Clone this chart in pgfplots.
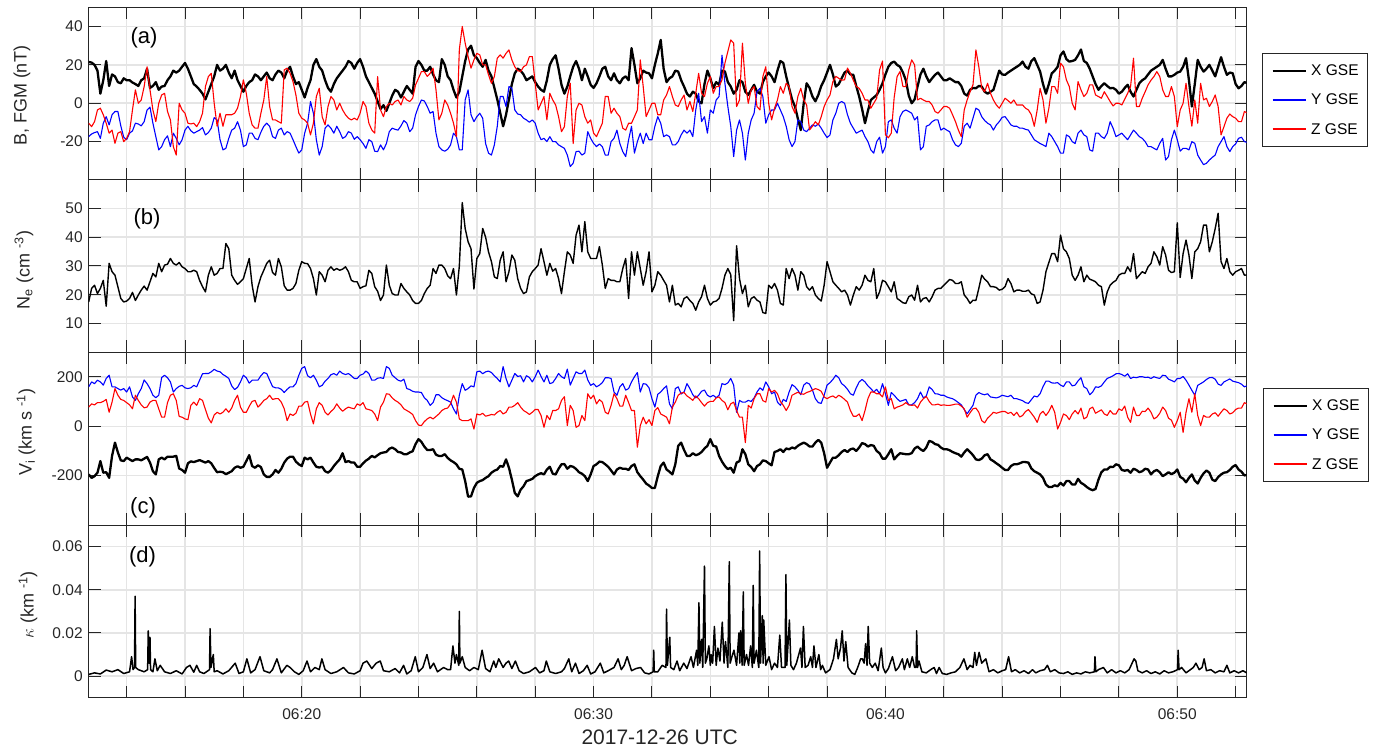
\documentclass[border=0pt]{standalone}
\usepackage{fontspec}
\setmainfont{Liberation Sans}
\usepackage{pgfplots}
\usepackage{pgfplotstable}
\pgfplotsset{compat=1.18}

\pgfplotstableread{
t bx by bz ne vx vy vz
12.7 21.5 -17.4 -10.4 17.5 -195 160 78
12.8 21.2 -16 -12.2 22.2 -209 180 91
12.9 20 -15.3 -9.6 23.3 -202 173 87
13.0 17 -14.8 -3.5 20.4 -188 187 96
13.1 5 -18.3 -2.6 22.2 -141 180 96
13.2 12 -10.4 -6 25 -188 167 101
13.3 22 -7 -10.4 16 -186 194 109
13.4 9 -11.3 -15.6 30.9 -209 207 57
13.5 15 -6 -14 28 -120 160 98
13.6 14 -4.3 -20.9 26.8 -66 160 153
13.7 11 -4.3 -15.6 22.8 -106 153 126
13.8 10.4 -11.8 -14.8 18.7 -138 147 109
13.9 13 -17.7 -20 17.5 -141 153 105
14.0 12 -19 -18.3 17.8 -127 139 96
14.1 12 -15.6 -14.8 18.7 -134 160 87
14.2 10.8 -14.4 -3.5 20.8 -141 119 71
14.3 10 -10.4 7 18 -134 105 126
14.4 9 -10.8 0 19.9 -134 132 105
14.5 12 -11.8 1.7 21.6 -138 153 87
14.6 13 -9.6 8.7 23 -131 188 75
14.7 18 -3.5 19 21.6 -124 173 78
14.8 8 -2 7 24.5 -147 153 98
14.9 9 -10.4 -3.5 27.4 -182 126 105
15.0 11 -17.4 -9.6 26.2 -195 116 105
15.1 7 -24.3 0 30.9 -134 126 71
15.2 8.7 -22.6 4.3 28 -127 198 37
15.3 9 -19 5.2 30.3 -134 207 37
15.4 12 -17 -4.3 30.6 -123 197 96
15.5 14 -22.6 -8.7 32.6 -123 180 126
15.6 17 -15.6 -22.6 30.9 -123 139 132
15.7 16 -18.3 -27 30.3 -120 153 105
15.8 17 -21.7 0 31.2 -171 162 40
15.9 19 -19 -3.5 29.7 -177 166 37
16.0 21 -14 -5.2 29.1 -188 156 30
16.1 18 -12 -10.4 28 -150 153 27
16.2 14 -14.3 -10.8 28 -142 156 85
16.3 10 -15.6 -10.4 28.5 -145 166 98
16.4 8.7 -14.8 -12.2 28 -141 160 85
16.5 7 -14 -9.6 25 -137 187 112
16.6 5 -12.7 -5.2 22.8 -142 213 105
16.7 2 -16.5 8.7 21 -147 214 68
16.8 6 -15.3 13.9 26.8 -141 214 33
16.9 10 -13 15.6 29.7 -150 221 14
17.0 14 -7.5 0 26.8 -169 231 46
17.1 20 -8.7 -12 27.4 -186 224 57
17.2 17 -19 -5.2 29.1 -184 221 50
17.3 18 -24.3 -12 29.1 -186 210 57
17.4 20 -23.5 -6 37.8 -194 203 71
17.5 16 -18.3 -6 36 -188 194 57
17.6 13 -14 -6 26.8 -182 164 74
17.7 17 -13 -5.2 25 -168 149 105
17.8 12 -9.6 -2.6 23.6 -162 158 126
17.9 9 -14 3.5 24.5 -168 180 78
18.0 6 -22.6 12.2 25.6 -164 207 57
18.1 9 -21.7 5.2 29.1 -141 197 57
18.2 11 -15.6 -5.2 32.6 -117 175 81
18.3 12 -15.6 -11.3 23.3 -161 187 101
18.4 15 -18.3 -13 17.5 -168 187 105
18.5 14 -19 -13 22.8 -158 187 78
18.6 12 -15.1 -5.2 26.2 -165 205 90
18.7 14 -12 1.7 28.5 -195 218 105
18.8 16 -10.4 13.9 30.9 -205 214 112
18.9 13 -12 -1.7 32 -205 187 126
19.0 12 -17.4 -8.7 27.7 -195 161 109
19.1 15 -18.3 -8.7 26.8 -177 156 112
19.2 17 -14 -9.6 32.6 -188 156 112
19.3 16 -13 -10.4 29.7 -172 150 98
19.4 13 -16.5 17.4 23.1 -147 137 71
19.5 17 -14.8 18.3 21.6 -131 150 23
19.6 19 -15.6 15.6 21.6 -123 160 50
19.7 14 -19 11.3 22.2 -123 160 44
19.8 10 -22.6 4.3 23.9 -143 173 53
19.9 11 -26 -5.2 28.5 -154 207 82
20.0 7 -24.3 -7.8 31.5 -161 235 82
20.1 3 -15.6 -8.7 30.9 -127 242 98
20.2 8 -10.4 -10.4 30.8 -134 205 101
20.3 12 0.9 -16.5 29.1 -127 197 50
20.4 20 -5.2 -10.4 25.6 -147 207 10
20.5 23 -19 3.5 19.9 -164 187 71
20.6 19 -27 7.8 28 -167 160 96
20.7 17 -22.6 -7 26.8 -164 166 85
20.8 12 -13 -11.3 24.5 -182 183 57
20.9 8 -11.3 -1.7 28.5 -188 194 46
21.0 6 -13 3.5 29.7 -178 209 60
21.1 10 -15.6 1.7 28.5 -161 214 71
21.2 13 -12 -3.5 29.1 -147 207 91
21.3 15 -14.8 0 28.5 -134 224 74
21.4 17 -18.3 -3.5 28.9 -109 214 61
21.5 19 -17.4 -6 29.7 -145 210 71
21.6 22 -14.8 -7.8 28 -141 214 78
21.7 21 -15.6 -8.7 25 -147 205 74
21.8 18 -18.8 -7.8 24.5 -147 194 71
21.9 21 -17.4 -8.7 24.5 -164 194 91
22.0 23 -19 -5.2 22.2 -164 207 85
22.1 19 -21 0.9 22.8 -150 212 96
22.2 14 -23.5 -1.7 23.1 -139 224 71
22.3 11 -19 -10.4 28.5 -131 214 68
22.4 8 -20 -13.9 27.4 -120 187 64
22.5 5 -25 -15.6 22.8 -126 187 50
22.6 1 -25.2 13.9 21.2 -117 195 23
22.7 -3 -21.7 -3.5 18 -109 197 78
22.8 -1 -24.3 -7 19.9 -106 194 98
22.9 -4 -21 -1.7 30.3 -104 242 132
23.0 0 -14.8 0 23.3 -91 235 130
23.1 4 -13 -0.9 20.4 -86 207 115
23.2 7 -13.6 0.9 19.9 -93 197 105
23.3 6 -14 1.7 19.9 -104 187 98
23.4 3 -11.8 -0.9 23.9 -106 183 87
23.5 6 -9 3.5 22.2 -113 191 71
23.6 9 -10.4 1.7 21 -113 153 64
23.7 7 -14.8 0.9 19.9 -106 149 57
23.8 5 -13 2.6 18 -101 142 48
23.9 19 -6 9.6 17 -72 139 23
24.0 22 -1.7 13 17 -52 139 5
24.1 20 1.7 16.5 18 -63 137 3
24.2 17 1.2 16.5 20.4 -82 116 19
24.3 17 -1.7 14 22.2 -96 105 30
24.4 19 -5.2 15.6 23.3 -96 85 37
24.5 15 -4.3 18.3 29.1 -93 96 30
24.6 12 -15.6 7 27.4 -115 128 40
24.7 11 -22.6 -8.7 30.3 -120 128 50
24.8 23 -24.3 -5.2 30.3 -120 116 64
24.9 20 -25 1.7 29.1 -113 109 71
25.0 14 -24 -0.9 26.6 -128 104 74
25.1 12 -21.7 -5.2 25.6 -138 98 91
25.2 7 -15.6 -10.4 29.1 -145 71 126
25.3 3 -17.4 -17.4 19.9 -154 50 98
25.4 6 -24.3 28 30 -172 126 30
25.5 14 -24.3 40 52 -175 173 23
25.6 22 1.7 31.3 43 -222 146 23
25.7 28 7 24.3 38.4 -285 153 23
25.8 30 -6 18.3 36 -284 164 30
25.9 25 -9.6 22.6 22 -250 160 -11
26.0 23.5 -7 26 32.6 -229 221 50
26.1 21 -5.2 25.2 34.3 -222 224 46
26.2 19 -7.8 20 43 -218 213 53
26.3 22.6 -21 20 40 -209 221 41
26.4 17 -26 14.8 34.9 -202 224 44
26.5 14 -27 10.4 31.5 -188 218 48
26.6 8 -21.7 13.9 26.2 -180 205 46
26.7 2 -12 23.5 25.6 -175 194 57
26.8 -5 3.5 25.2 32 -161 180 64
26.9 -12 3.5 23.5 34.9 -164 242 50
27.0 -6 -1.7 26 24.5 -134 194 57
27.1 2 8.7 27.8 28 -168 160 78
27.2 10 7.8 22.6 33.8 -216 187 78
27.3 15.6 -3.5 19 32 -270 214 85
27.4 18 -5.6 17 25.6 -284 202 96
27.5 17 -6 16.5 22.2 -257 205 78
27.6 15 -7.8 19 20.4 -243 180 64
27.7 12 -8.7 20 21 -222 205 57
27.8 13 -9.9 24.3 26.2 -218 198 48
27.9 14 -8.7 24.3 28 -213 180 57
28.0 11 -10.4 10.4 29.1 -202 201 68
28.1 8.7 -15.6 -3.5 30.3 -195 228 68
28.2 7 -19 0 36 -190 202 44
28.3 6 -18.3 3.5 31.5 -195 180 -4
28.4 12 -20 -8.7 26.8 -175 207 44
28.5 20 -17.4 5.2 30.9 -164 173 27
28.6 23 -20 1.7 28.2 -192 177 64
28.7 25 -20 -0.9 29.1 -195 194 64
28.8 18 -21.7 -7 25.6 -172 214 71
28.9 9.6 -22.6 -14.8 20.4 -154 201 105
29.0 5 -23.5 -12.2 28 -153 194 120
29.1 8.7 -27 3.5 34.9 -172 232 3
29.2 14 -33 10.4 33.8 -161 167 85
29.3 19 -31.3 -21 30.9 -164 194 64
29.4 22 -25.2 -3.5 40.7 -173 221 -4
29.5 18 -25 0 44.2 -186 214 3
29.6 12 -27 -0.9 34.9 -192 214 44
29.7 18 -26 -7 45.4 -202 228 23
29.8 14 -14.8 -10.4 34.9 -222 188 132
29.9 9.6 -18.3 -8.7 32.6 -195 166 112
30.0 8 -20.9 -15.6 32.6 -161 173 126
30.1 10.4 -22.6 -17.4 32.6 -154 160 91
30.2 14 -21.2 -13.9 36.7 -143 167 108
30.3 18 -22.6 -10.4 30.3 -145 177 98
30.4 19 -27 3.5 22.2 -154 197 57
30.5 14 -27 3.5 25.6 -164 197 50
30.6 12 -20 -5.2 25 -179 194 85
30.7 15.6 -18.3 -2.6 25 -195 139 132
30.8 12 -14 -5.2 24.5 -175 126 112
30.9 10.4 -21 -7 24.5 -168 160 82
31.0 13 -25.2 -13 29.1 -172 173 82
31.1 14 -27.8 -14 32.6 -172 147 126
31.2 12 -19 -10.4 18.7 -177 153 96
31.3 28.7 -12 -10.4 34.9 -161 180 64
31.4 20 -26 -7 26.8 -154 201 64
31.5 10.4 -20 -3.5 34.9 -186 218 -85
31.6 13 -15.6 22.6 29.1 -202 139 3
31.7 17 -21 8.7 23.3 -216 173 37
31.8 16 -15.6 -7 28 -232 171 10
31.9 15.6 -19 -3.5 34.9 -240 156 27
32.0 13 -19 0 21 -250 112 3
32.1 20 -12 0 23.3 -250 78 64
32.2 26 -7 -6 28 -202 130 76
32.3 33 -10.4 -6 26.8 -161 139 50
32.4 18 -17.4 1.7 25 -147 153 44
32.5 11 -16.5 4.3 23.3 -175 164 37
32.6 13 -17.4 8.7 17.5 -184 91 10
32.7 14 -21.7 3.5 23.3 -195 71 78
32.8 17 -21.7 -0.9 16.4 -154 153 98
32.9 16.5 -20 -1.7 17 -79 160 126
33.0 12 -16.5 1.7 15.8 -66 131 135
33.1 8.7 -14 4.3 18.7 -96 139 137
33.2 5 -15.6 -3.5 19.3 -120 173 123
33.3 3.5 -14 0.9 18 -120 153 115
33.4 6 -17.4 -4.3 17 -109 128 105
33.5 5 -3.5 5.2 14.6 -117 115 123
33.6 1 5.2 15.6 17.5 -113 126 112
33.7 0 -9.6 5.2 19.3 -104 142 96
33.8 10 -7 3.5 23.3 -90 147 82
33.9 17 -15.6 10.4 18.7 -79 126 96
34.0 13 -3.5 13.9 16.4 -52 119 101
34.1 7.8 -5.2 5.2 17.5 -79 126 101
34.2 11 1.7 8.7 17.8 -82 116 115
34.3 9.6 3.5 8.7 18.7 -120 126 119
34.4 17 25 12.2 22.2 -143 173 105
34.5 16.5 10.4 20.9 26.8 -161 169 96
34.6 11 -1.7 27 29.1 -173 176 67
34.7 8.7 -12 33 27 -168 194 91
34.8 5 -27.8 31.3 11 -188 167 98
34.9 7 -14 -1.7 37 -147 57 64
35.0 12 -8.7 1.7 25.6 -141 105 37
35.1 11 -15.6 31.3 20.4 -93 98 37
35.2 6 -29.6 10.4 23.3 -113 98 -66
35.3 4.3 -15.6 0 15.8 -154 105 85
35.4 7 -8.7 7 18.7 -165 101 74
35.5 9.6 -5.2 8.7 19.3 -182 115 112
35.6 6 6 -1.7 18.1 -161 139 132
35.7 5 7.8 -3.5 17.5 -154 156 132
35.8 11 3.5 13.9 13.8 -138 146 104
35.9 14 -10.4 19 13.5 -141 180 98
36.0 16 -6 0 23.3 -150 160 153
36.1 14 -3.5 -8.7 22.2 -158 132 139
36.2 11 -3.5 -2.6 23.9 -104 139 146
36.3 17 0 1.7 21.6 -100 98 132
36.4 22 -3.5 8.7 17 -93 85 101
36.5 21 -7 5.2 16.4 -104 109 85
36.6 14 -12 10.4 29.1 -90 101 64
36.7 7.8 -19 8.7 25.6 -93 139 85
36.8 2 -22.6 -1.7 29.1 -86 169 126
36.9 -1.7 -20 -5.2 26.8 -90 160 132
37.0 -8 -8.7 3.5 21.6 -79 146 138
37.1 -14 -9.6 7.8 28 -72 128 132
37.2 0 -14 1.7 26.8 -66 167 130
37.3 10.4 -14.8 -0.9 22.8 -72 177 137
37.4 8 -13 -13.9 21.6 -82 171 141
37.5 3.5 -11.3 -12 22.8 -82 147 147
37.6 1 -12 -9.6 19.9 -66 112 153
37.7 4.3 -10.8 -11.3 18.7 -55 96 149
37.8 9 -13 -7 17.8 -66 93 142
37.9 12 -15.6 -1.7 23.3 -109 126 119
38.0 16 -17.9 1.7 31.5 -168 167 112
38.1 20 -16.5 4.3 28 -147 177 119
38.2 15 -8.7 11.3 24.5 -127 190 123
38.3 8.7 -5.2 14 23.3 -127 207 115
38.4 10 0 13 22.2 -117 197 126
38.5 13 0.9 12 21 -104 173 119
38.6 16 0 12.2 21.6 -96 164 109
38.7 17 -6 18.3 19.9 -104 150 98
38.8 15 -10.4 15.6 16.4 -93 132 64
38.9 14.8 -13 12 19.9 -90 126 41
39.0 9 -15.6 8.7 22.8 -100 156 41
39.1 3.5 -14.8 7.8 21.6 -86 180 50
39.2 -3 -14 5.2 23.3 -68 190 23
39.3 -10.4 -17.4 1.7 26.8 -72 180 64
39.4 -4 -20 1.7 25 -82 164 112
39.5 1.7 -24.3 -2.6 24.5 -76 153 139
39.6 3 -26 0 29.1 -79 139 139
39.7 4.3 -20 2.6 18.7 -100 150 132
39.8 7 -17.7 17.4 21 -109 132 132
39.9 10.4 -26 22 25 -131 173 119
40.0 15 -22.6 -16.5 24.5 -131 132 160
40.1 19 -9.6 -18 22.8 -113 85 105
40.2 21 -8.7 -15.6 21 -93 137 112
40.3 21.7 -13 3 24.5 -134 126 71
40.4 20 -15.6 13.9 18.7 -120 112 78
40.5 19 -7 16.5 18 -109 101 82
40.6 16 -4.3 8.7 17.2 -111 105 87
40.7 12 -3.5 8.7 17 -113 109 96
40.8 4 -4.3 17.4 19.3 -113 87 87
40.9 0 -5.2 22.6 19.9 -109 87 85
41.0 2 -8.7 20 18.1 -90 96 87
41.1 8.7 -7 1.7 23.3 -82 112 74
41.2 15 -24.3 2.6 17.5 -93 139 98
41.3 18 -22.6 1.7 18.7 -100 115 112
41.4 14 -12 0.9 19 -86 123 121
41.5 11 -11.3 0.9 17.5 -59 160 101
41.6 13 -9.6 -0.9 19.3 -63 149 87
41.7 14.8 -8.7 -4.3 21.6 -72 132 87
41.8 16 -8.7 -5.2 22.2 -75 131 90
41.9 14 -14 -3.5 22.2 -86 126 85
42.0 12 -13 -1.7 23.3 -93 126 87
42.1 12 -14 -1.7 24.3 -93 119 85
42.2 13 -14.8 -2.6 25.3 -97 115 85
42.3 12 -19 -6 25 -104 112 87
42.4 11 -21.7 -9.6 23.9 -109 105 90
42.5 11 -22.6 -14 23.9 -113 96 90
42.6 9 -20.9 -17.4 24.5 -123 87 82
42.7 5 -12 -3.5 19.9 -106 68 71
42.8 4 -10.4 1.7 18.7 -93 51 37
42.9 7 -13 6 17 -104 68 55
43.0 8 -7.8 9.6 18.1 -117 85 71
43.1 7.8 -2.6 27.8 18 -134 126 74
43.2 9 -3.5 19 22.2 -137 137 57
43.3 8.7 -7 7.8 26.8 -131 131 23
43.4 6 -9 6 25.4 -117 128 14
43.5 5 -10.4 10.4 24.5 -113 132 33
43.6 6 -11.3 5.2 22.8 -134 119 44
43.7 7 -14 1.7 22.8 -141 117 57
43.8 12 -11.3 -0.9 22.5 -150 115 53
43.9 17 -9.6 -2.6 21.6 -158 119 57
44.0 15 -7.3 0 21.9 -168 126 60
44.1 14.8 -7 2.6 22.8 -177 123 60
44.2 16 -9 1.4 25.6 -177 120 52
44.3 17 -11.3 0 23.9 -161 126 57
44.4 18 -12 1.7 21 -154 112 44
44.5 19 -12 -0.9 21.6 -154 112 57
44.6 20 -13 -0.9 21.6 -150 108 38
44.7 21.7 -13 -0.9 21.2 -145 104 44
44.8 19 -13.6 -2.6 21.2 -145 96 60
44.9 18 -14 -3.5 21.6 -147 93 68
45.0 22 -16.5 -6 20.3 -171 108 53
45.1 23.5 -19 -12 19.9 -182 123 37
45.2 20 -20 -3.5 17 -188 119 16
45.3 16.5 -21 7.8 17.5 -195 132 50
45.4 10 -21.7 1.7 21.6 -209 161 61
45.5 5 -22.6 -10.4 28 -236 183 44
45.6 10 -15.6 -2.6 31.2 -246 183 60
45.7 15.6 -17.4 8.7 34.3 -246 176 85
45.8 17 -20 8.7 34.3 -239 175 57
45.9 19 -22.6 5.2 31.5 -243 177 -11
46.0 25 -26 20.9 40.7 -229 167 16
46.1 27 -26 19 36 -240 161 50
46.2 23 -16.5 12.2 34.9 -222 180 44
46.3 21.7 -17.4 8.7 32.6 -222 180 27
46.4 22 -20 0 26.8 -236 164 50
46.5 22.6 -21 -3.5 25 -236 167 64
46.6 25 -15.6 11.3 26.8 -213 184 50
46.7 28 -14 7 29.7 -229 197 74
46.8 22 -16.5 3.5 24.5 -236 160 30
46.9 21 -17.4 5.2 26.8 -246 153 37
47.0 18 -24.3 9.6 25.4 -254 128 71
47.1 14 -25 9.6 25 -259 139 78
47.2 10 -15.6 4.3 24.5 -254 160 53
47.3 7 -15.6 3.5 23.3 -216 158 60
47.4 9 -17.4 2.6 22.8 -186 164 67
47.5 10.4 -18.3 6 16.4 -175 180 50
47.6 9 -15.6 3.5 21 -175 194 44
47.7 7.8 -9.6 0.9 23.3 -164 199 64
47.8 8 -13 -1.4 24.3 -165 205 50
47.9 7 -17.4 0 25 -154 213 50
48.0 5 -16.5 0 26.8 -158 214 71
48.1 6 -15.6 -0.9 27.4 -177 210 64
48.2 8 -17.4 2.1 27.4 -180 203 82
48.3 9.6 -19 5.2 29.7 -177 213 37
48.4 6 -16.5 8.7 28 -188 194 16
48.5 3.5 -14 23.5 34.3 -172 199 78
48.6 7 -15.6 -1.7 25.6 -177 197 44
48.7 10.4 -17.4 -1.7 26.8 -186 201 44
48.8 12 -18.3 2.6 28 -182 201 61
48.9 13 -20 6 27.4 -172 198 60
49.0 15 -22.6 9.6 29.7 -175 199 74
49.1 17 -22.6 12 30.9 -195 194 57
49.2 18 -23.5 13.9 34.9 -182 201 30
49.3 19 -24.3 16.5 33.2 -177 197 37
49.4 20 -20.9 13.9 30.3 -186 194 53
49.5 22.6 -18.3 7 36.7 -202 207 78
49.6 18 -29.6 3.5 33.8 -195 205 64
49.7 14 -27.8 3.5 28.5 -186 191 33
49.8 14 -19 8.7 27.7 -194 186 25
49.9 14.8 -14 3.5 28 -188 180 -4
50.0 16 -19 -12.2 45 -175 194 23
50.1 16.5 -25 -3.5 26 -205 194 57
50.2 19 -23.5 0 34.3 -212 202 -25
50.3 23.5 -23.5 10.4 39 -227 187 57
50.4 12 -24.3 -1.7 33.8 -209 167 112
50.5 -1.7 -20 -12 25.6 -195 146 57
50.6 10 -20.9 1.7 34.9 -220 126 132
50.7 22.6 -27 -10.4 36 -232 166 44
50.8 19 -29.6 10.4 38.4 -209 173 3
50.9 16.5 -32 1.7 44.2 -191 180 44
51.0 18 -31.3 2.6 44.2 -179 190 37
51.1 20 -29.6 -1.7 34.9 -188 197 37
51.2 17 -28.2 0.9 38.4 -216 198 50
51.3 14 -27 4.3 43 -222 191 55
51.4 19 -22.6 -1.7 48.3 -206 171 41
51.5 24 -20 -16.5 31.5 -195 166 57
51.6 19 -17.4 -12.2 29.1 -188 180 71
51.7 14.8 -22.6 -7.8 32.6 -186 186 64
51.8 16 -25.2 -5.6 28 -177 192 50
51.9 15.6 -22.6 -7 26.8 -164 183 55
52.0 10 -21.2 -7.8 28 -157 180 68
52.1 7.8 -18.3 -9.6 28.5 -175 177 74
52.2 9 -17.7 -9.6 29.1 -184 171 74
52.3 11 -20 -4.3 26.8 -199 160 96
52.5 10 -21 -6 27 -195 170 85
}\datatab

\pgfplotsset{
  panel/.style={
    scale only axis, width=1158pt, height=172.7pt,
    anchor=south west,
    xmin=12.7, xmax=52.38,
    xtick={14,16,...,52},
    xticklabels={},
    tick align=inside, xtick pos=both, ytick pos=both,
    major tick length=12pt,
    grid=major,
    grid style={black!10, line width=1.6pt},
    axis line style={black!85, line width=1pt},
    tick style={black!85, line width=1pt},
    tick label style={font=\fontsize{15.5}{18}\selectfont, text=black!85},
    /pgf/number format/assume math mode=true,
    scaled y ticks=false,
    yticklabel style={xshift=-2.5pt},
    every axis plot/.append style={line join=round},
    legend image code/.code={\draw[##1] (0pt,0pt) -- (33pt,0pt);},
    legend cell align=left,
  },
  leg/.style={
    legend style={at={(rel axis cs:1,1)}, anchor=north west, xshift=#1,
      draw=black!85, line width=1pt, font=\fontsize{15.5}{18}\selectfont,
      inner xsep=8.4pt, inner ysep=11pt, row sep=16.9pt, column sep=4.4pt,
      nodes={inner sep=0pt}},
  },
}

\begin{document}
\begin{tikzpicture}
\path[use as bounding box] (0pt,0pt) rectangle (1376pt,748pt);

% (a)
\begin{axis}[panel, at={(88.7pt,568pt)},
  ymin=-40, ymax=50, ytick={-20,0,20,40},
  leg=15.6pt, legend style={yshift=-46pt}]
\addlegendimage{black, line width=2.6pt}
\addlegendimage{blue, line width=2pt}
\addlegendimage{red, line width=2pt}
\addplot[black, line width=2.3pt] table[x=t, y=bx]{\datatab};
\addplot[blue, line width=1.1pt] table[x=t, y=by]{\datatab};
\addplot[red, line width=1.1pt] table[x=t, y=bz]{\datatab};
\legend{X GSE, Y GSE, Z GSE}
\end{axis}

% (b)
\begin{axis}[panel, at={(88.7pt,395.7pt)},
  ymin=0, ymax=60, ytick={10,20,30,40,50}]
\addplot[black, line width=1.4pt] table[x=t, y=ne]{\datatab};
\end{axis}

% (c)
\begin{axis}[panel, at={(88.7pt,223pt)},
  ymin=-400, ymax=300, ytick={-200,0,200},
  leg=16.6pt, legend style={yshift=-36pt}]
\addlegendimage{black, line width=2.6pt}
\addlegendimage{blue, line width=2pt}
\addlegendimage{red, line width=2pt}
\addplot[black, line width=2.3pt] table[x=t, y=vx]{\datatab};
\addplot[blue, line width=1.1pt] table[x=t, y=vy]{\datatab};
\addplot[red, line width=1.1pt] table[x=t, y=vz]{\datatab};
\legend{X GSE, Y GSE, Z GSE}
\end{axis}

% (d)
\begin{axis}[panel, at={(88.7pt,50.3pt)},
  ymin=-0.01, ymax=0.07, ytick={0,0.02,0.04,0.06},
  yticklabel style={/pgf/number format/fixed, /pgf/number format/precision=2},
  xticklabels={{},{},{},06:20,{},{},{},{},06:30,{},{},{},{},06:40,{},{},{},{},06:50,{}},
  xticklabel style={anchor=base, yshift=-21.3pt}]
\addplot[black, line width=1.5pt] coordinates {
(12.7,0.0008) (12.9,0.0015) (13.1,0.0010) (13.3,0.0028) (13.5,0.0020) (13.7,0.0030) (13.9,0.0012) (14.1,0.0020)
(14.17,0.009) (14.22,0.003) (14.27,0.004) (14.29,0.037) (14.31,0.004) (14.4,0.003) (14.5,0.0025) (14.6,0.0020)
(14.72,0.003) (14.74,0.021) (14.77,0.006) (14.80,0.018) (14.82,0.003) (14.9,0.002) (14.97,0.008) (15.05,0.0025)
(15.15,0.005) (15.3,0.0020) (15.5,0.0012) (15.7,0.0025) (15.9,0.0010) (16.05,0.004) (16.17,0.005) (16.3,0.0018)
(16.40,0.005) (16.5,0.0020) (16.65,0.0012) (16.84,0.003) (16.86,0.022) (16.89,0.004) (16.97,0.010) (17.0,0.002)
(17.1,0.0025) (17.3,0.0010) (17.5,0.0025) (17.72,0.006) (17.85,0.0012) (18.0,0.0020) (18.12,0.008) (18.25,0.0015)
(18.4,0.0030) (18.57,0.009) (18.7,0.0025) (18.9,0.0015) (19.0,0.0030) (19.15,0.008) (19.3,0.0015) (19.49,0.005)
(19.6,0.0040) (19.75,0.0020) (19.9,0.0008) (20.05,0.0025) (20.18,0.007) (20.3,0.0020) (20.45,0.0040) (20.6,0.0030)
(20.69,0.008) (20.8,0.0030) (21.0,0.0012) (21.2,0.0020) (21.43,0.004) (21.6,0.0015) (21.8,0.0010) (22.0,0.0025)
(22.1,0.006) (22.23,0.007) (22.4,0.0035) (22.55,0.006) (22.69,0.007) (22.8,0.0025) (23.0,0.0020) (23.2,0.0035)
(23.35,0.0015) (23.49,0.005) (23.6,0.0010) (23.75,0.0025) (23.89,0.009) (24.0,0.0020) (24.15,0.004) (24.29,0.010)
(24.4,0.0035) (24.52,0.006) (24.65,0.0020) (24.86,0.004) (25.0,0.0030) (25.1,0.0030) (25.18,0.014) (25.25,0.006)
(25.30,0.010) (25.38,0.005) (25.40,0.030) (25.42,0.006) (25.5,0.009) (25.6,0.0040) (25.75,0.0025) (25.9,0.0040)
(26.05,0.0030) (26.18,0.012) (26.3,0.0035) (26.45,0.0020) (26.58,0.007) (26.65,0.004) (26.75,0.008) (26.9,0.0040)
(27.0,0.006) (27.09,0.007) (27.2,0.0035) (27.32,0.007) (27.45,0.0025) (27.6,0.0012) (27.8,0.0020) (28.01,0.004)
(28.15,0.0015) (28.3,0.0025) (28.38,0.007) (28.5,0.0020) (28.7,0.0012) (28.9,0.0020) (29.0,0.0035) (29.15,0.008)
(29.25,0.0020) (29.38,0.006) (29.5,0.0012) (29.65,0.0025) (29.78,0.005) (29.9,0.0010) (30.05,0.0020) (30.23,0.006)
(30.35,0.0015) (30.5,0.0025) (30.7,0.0040) (30.84,0.008) (30.95,0.0030) (31.05,0.0050) (31.15,0.009) (31.3,0.0025)
(31.45,0.0035) (31.61,0.004) (31.75,0.0015) (31.9,0.0010) (32.04,0.002) (32.06,0.012) (32.08,0.002) (32.2,0.0020)
(32.35,0.0050) (32.48,0.004) (32.50,0.031) (32.53,0.005) (32.61,0.018) (32.64,0.004) (32.75,0.0030) (32.86,0.007)
(32.95,0.0025) (33.09,0.006) (33.2,0.0035) (33.34,0.009) (33.42,0.004) (33.53,0.012) (33.57,0.005) (33.61,0.034)
(33.64,0.006) (33.70,0.017) (33.74,0.004) (33.80,0.051) (33.83,0.006) (33.88,0.008) (33.95,0.014) (34.0,0.005)
(34.03,0.010) (34.08,0.006) (34.14,0.023) (34.2,0.005) (34.26,0.013) (34.33,0.007) (34.41,0.025) (34.47,0.006)
(34.52,0.016) (34.6,0.004) (34.65,0.053) (34.68,0.006) (34.74,0.009) (34.81,0.012) (34.9,0.005) (34.98,0.020)
(35.01,0.006) (35.04,0.021) (35.09,0.005) (35.13,0.039) (35.16,0.005) (35.24,0.010) (35.31,0.005) (35.38,0.014)
(35.44,0.004) (35.47,0.042) (35.50,0.006) (35.58,0.012) (35.66,0.004) (35.69,0.058) (35.72,0.006) (35.78,0.028)
(35.81,0.006) (35.83,0.026) (35.9,0.005) (36.01,0.009) (36.1,0.003) (36.2,0.006) (36.3,0.004) (36.38,0.019)
(36.44,0.004) (36.56,0.004) (36.59,0.047) (36.62,0.005) (36.71,0.026) (36.76,0.005) (36.85,0.003) (36.95,0.006)
(37.09,0.013) (37.14,0.004) (37.19,0.023) (37.25,0.004) (37.35,0.005) (37.44,0.009) (37.5,0.004) (37.55,0.014)
(37.62,0.004) (37.72,0.010) (37.78,0.003) (37.84,0.005) (37.95,0.0015) (38.1,0.003) (38.22,0.008) (38.32,0.017)
(38.38,0.008) (38.46,0.013) (38.52,0.021) (38.58,0.007) (38.64,0.016) (38.72,0.004) (38.85,0.0015) (38.95,0.0008)
(39.05,0.004) (39.15,0.008) (39.21,0.008) (39.27,0.006) (39.32,0.015) (39.37,0.005) (39.41,0.023) (39.46,0.006)
(39.55,0.004) (39.65,0.006) (39.75,0.0025) (39.86,0.013) (39.92,0.004) (40.0,0.0015) (40.1,0.0035) (40.24,0.009)
(40.35,0.0025) (40.45,0.004) (40.58,0.008) (40.65,0.003) (40.75,0.008) (40.83,0.004) (40.92,0.009) (41.0,0.004)
(41.05,0.004) (41.07,0.021) (41.10,0.004) (41.15,0.007) (41.25,0.002) (41.4,0.0015) (41.55,0.003) (41.67,0.004)
(41.75,0.0012) (41.84,0.004) (41.95,0.0012) (42.1,0.0008) (42.25,0.0015) (42.4,0.0020) (42.55,0.004) (42.69,0.008)
(42.8,0.003) (42.9,0.005) (43.0,0.004) (43.06,0.011) (43.12,0.005) (43.21,0.011) (43.3,0.006) (43.44,0.008)
(43.55,0.002) (43.7,0.0030) (43.85,0.0015) (44.0,0.0025) (44.12,0.0030) (44.22,0.009) (44.32,0.0020) (44.45,0.0030)
(44.6,0.0015) (44.75,0.0025) (44.9,0.0012) (45.04,0.003) (45.15,0.0015) (45.3,0.0025) (45.45,0.0030) (45.55,0.005)
(45.65,0.0020) (45.8,0.0030) (45.95,0.0015) (46.1,0.0012) (46.25,0.0020) (46.4,0.0008) (46.55,0.0015) (46.7,0.0010)
(46.85,0.0020) (47.0,0.0015) (47.16,0.002) (47.18,0.009) (47.21,0.002) (47.3,0.0030) (47.47,0.004) (47.6,0.0015)
(47.75,0.0030) (47.9,0.0015) (48.05,0.0025) (48.2,0.0015) (48.35,0.0030) (48.52,0.008) (48.58,0.007) (48.65,0.0025)
(48.8,0.0015) (48.95,0.0025) (49.1,0.0012) (49.25,0.0020) (49.4,0.0010) (49.55,0.0025) (49.7,0.0015) (49.85,0.0020)
(50.01,0.003) (50.03,0.012) (50.06,0.003) (50.15,0.0040) (50.3,0.0015) (50.45,0.0030) (50.55,0.0040) (50.64,0.006)
(50.75,0.0030) (50.85,0.0040) (50.92,0.008) (51.0,0.0025) (51.15,0.0030) (51.3,0.0015) (51.45,0.0025) (51.6,0.0020)
(51.70,0.005) (51.8,0.0015) (51.95,0.0025) (52.1,0.0015) (52.25,0.0025) (52.38,0.0015)
};
\end{axis}

% panel letters
\node[font=\fontsize{22}{26}\selectfont] at (144pt,710.5pt) {(a)};
\node[font=\fontsize{22}{26}\selectfont] at (147pt,529pt) {(b)};
\node[font=\fontsize{22}{26}\selectfont] at (143pt,240pt) {(c)};
\node[font=\fontsize{22}{26}\selectfont] at (142.5pt,191.3pt) {(d)};

% y labels
\node[rotate=90, font=\fontsize{18}{21}\selectfont, text=black!85] at (22pt,652pt) {B, FGM (nT)};
\node[rotate=90, font=\fontsize{18}{21}\selectfont, text=black!85] at (24pt,478pt) {N\textsubscript{e} (cm \textsuperscript{-3})};
\node[rotate=90, font=\fontsize{18}{21}\selectfont, text=black!85] at (26pt,316pt) {V\textsubscript{i} (km s \textsuperscript{-1})};
\node[rotate=90, font=\fontsize{18}{21}\selectfont, text=black!85] at (28pt,143pt) {$\kappa$ (km \textsuperscript{-1})};

% x label
\node[font=\fontsize{21}{25}\selectfont, anchor=base, text=black!85] at (659.7pt,4pt) {2017-12-26 UTC};
\end{tikzpicture}
\end{document}
